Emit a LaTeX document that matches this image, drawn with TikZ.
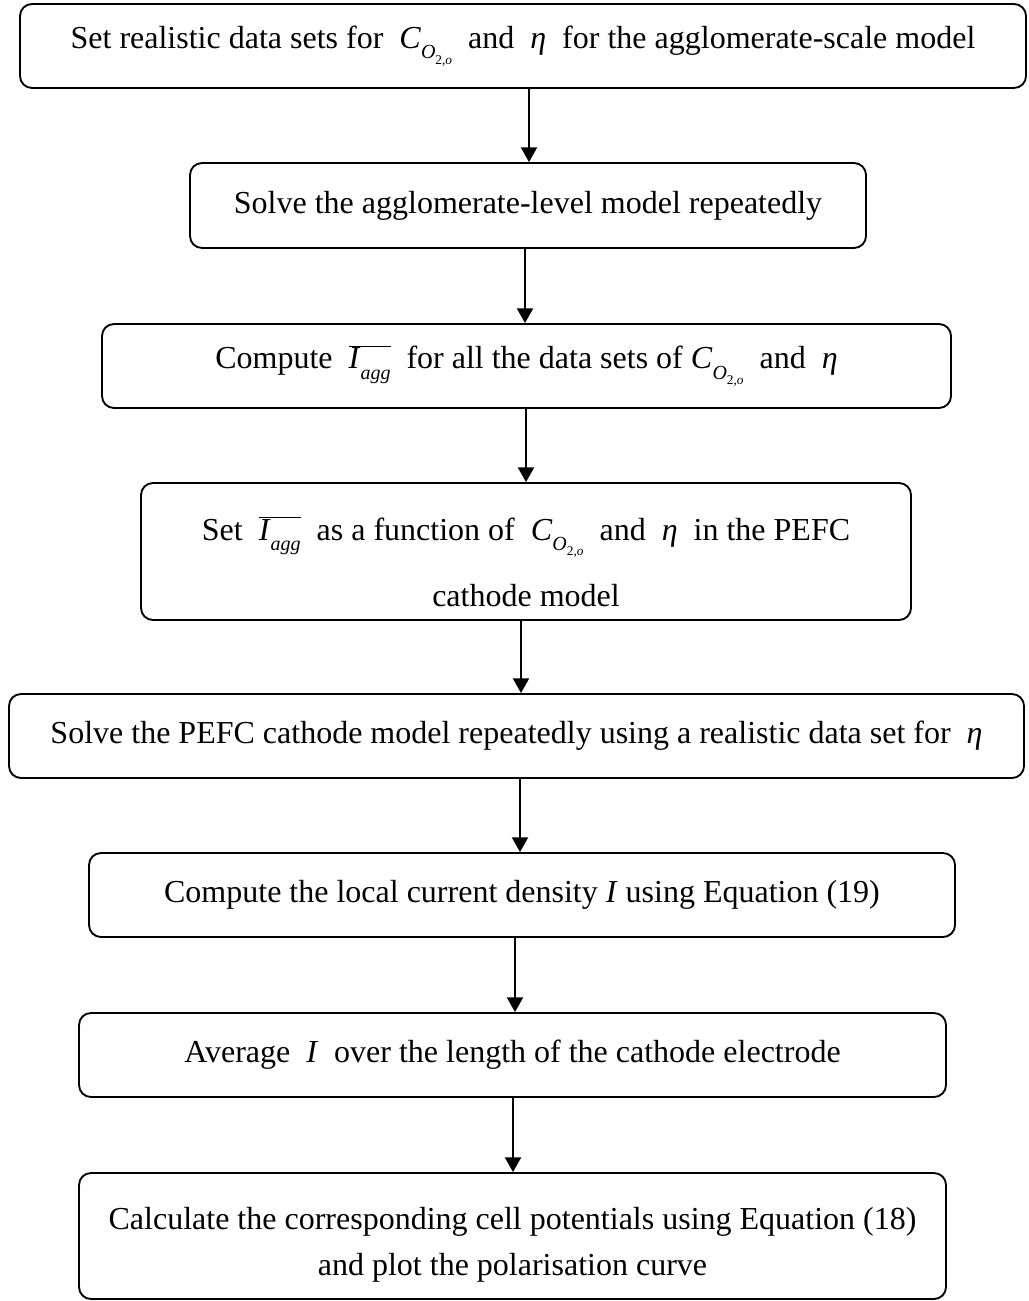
\documentclass[tikz,border=0pt]{standalone}
\usepackage{fontspec}
\setmainfont{Liberation Serif}
\usetikzlibrary{arrows.meta}
\newcommand\subA[1]{\raisebox{-0.32em}{\fontsize{15}{15}\selectfont #1}}
\newcommand\subB[1]{\raisebox{-0.28em}{\fontsize{10}{10}\selectfont #1}}
\newcommand\Cox{\textit{C}\subA{\textit{O}\subB{2,\textit{o}}}}
\newcommand\Iagg{\ensuremath{\overline{\hbox{\textit{I}\subA{\textit{agg}}}}}}
\newcommand\eeta{\textit{η}}
\begin{document}
\begin{tikzpicture}[x=0.75pt,y=-0.75pt,
  box/.style={draw, line width=1.4pt, rounded corners=9pt, align=center, inner sep=0pt,
    font=\fontsize{24}{35}\selectfont},
  arr/.style={-{Triangle[length=11pt,width=12pt]}, line width=1.4pt}]
\useasboundingbox (0,0) rectangle (1028,1301);
\node[box, minimum width=754.5pt, minimum height=63pt] (b1) at (523,46)
  {Set realistic data sets for \ \Cox\ \ and \ \eeta\ \ for the agglomerate-scale model};
\node[box, minimum width=507pt, minimum height=63.75pt] (b2) at (528,205.5)
  {Solve the agglomerate-level model repeatedly};
\node[box, minimum width=636.75pt, minimum height=63pt] (b3) at (526.5,366)
  {Compute \ \Iagg\ \ for all the data sets of \Cox\ \ and \ \eeta};
\node[box, minimum width=577.5pt, minimum height=102.75pt] (b4) at (526,551.5)
  {\rule{0pt}{33pt}Set \ \Iagg\ \ as a function of \ \Cox\ \ and \ \eeta\ \ in the PEFC\\[15pt] cathode model};
\node[box, minimum width=761.25pt, minimum height=63pt] (b5) at (516.5,736)
  {Solve the PEFC cathode model repeatedly using a realistic data set for \ \eeta};
\node[box, minimum width=649.5pt, minimum height=63pt] (b6) at (522,895)
  {Compute the local current density \textit{I} using Equation (19)};
\node[box, minimum width=650.25pt, minimum height=63pt] (b7) at (512.5,1055)
  {Average \ \textit{I} \ over the length of the cathode electrode};
\node[box, minimum width=650.25pt, minimum height=94.5pt] (b8) at (512.5,1236)
  {\rule{0pt}{30pt}Calculate the corresponding cell potentials using Equation (18)\\ and plot the polarisation curve};
\draw[arr] ([xshift=4.5pt]b1.south) -- ([xshift=4.5pt]b1.south |- b2.north);
\draw[arr] ([xshift=-2.25pt]b2.south) -- ([xshift=-2.25pt]b2.south |- b3.north);
\draw[arr] ([xshift=-0.375pt]b3.south) -- ([xshift=-0.375pt]b3.south |- b4.north);
\draw[arr] ([xshift=-3.75pt]b4.south) -- ([xshift=-3.75pt]b4.south |- b5.north);
\draw[arr] ([xshift=2.625pt]b5.south) -- ([xshift=2.625pt]b5.south |- b6.north);
\draw[arr] ([xshift=-5.25pt]b6.south) -- ([xshift=-5.25pt]b6.south |- b7.north);
\draw[arr] ([xshift=0.375pt]b7.south) -- ([xshift=0.375pt]b7.south |- b8.north);
\end{tikzpicture}
\end{document}
